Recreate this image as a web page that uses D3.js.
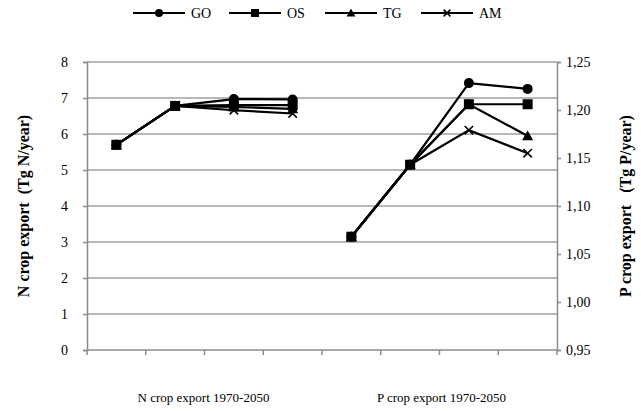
<!DOCTYPE html>
<html>
<head>
<meta charset="UTF-8">
<script src="https://d3js.org/d3.v7.min.js"></script>
<style>
  body { margin: 0; background: #fff; }
</style>
</head>
<body>
<svg id="chart" width="641" height="411"></svg>
<script>
// categories: 4 N points then 4 P points
const categories = ["N 1970", "N 2000", "N 2030", "N 2050", "P 1970", "P 2000", "P 2030", "P 2050"];
const seriesNames = ["GO", "OS", "TG", "AM"];

// N crop export (Tg N/year), left axis
const nGO = [5.70, 6.78, 6.97, 6.96];
const nOS = [5.70, 6.78, 6.80, 6.80];
const nTG = [5.70, 6.78, 6.75, 6.70];
const nAM = [5.70, 6.78, 6.66, 6.57];

// P crop export (Tg P/year), right axis
const pGO = [1.068, 1.143, 1.228, 1.222];
const pOS = [1.068, 1.143, 1.206, 1.206];
const pTG = [1.068, 1.143, 1.206, 1.173];
const pAM = [1.068, 1.143, 1.179, 1.155];

const leftTicks = [0, 1, 2, 3, 4, 5, 6, 7, 8];
const rightTicks = [0.95, 1.00, 1.05, 1.10, 1.15, 1.20, 1.25];
const groupLabels = ["N crop export 1970-2050", "P crop export 1970-2050"];

const nData = [nGO, nOS, nTG, nAM];
const pData = [pGO, pOS, pTG, pAM];

const FONT = "'Liberation Serif', 'Times New Roman', serif";
const plot = { left: 87, right: 557, top: 62, bottom: 350 };
const svg = d3.select("#chart");

const x = d3.scaleBand().domain(categories).range([plot.left, plot.right]).padding(0);
const yL = d3.scaleLinear().domain([0, 8]).range([plot.bottom, plot.top]);
const yR = d3.scaleLinear().domain([0.95, 1.25]).range([plot.bottom, plot.top]);
const cx = c => x(c) + x.bandwidth() / 2;

// gridlines
svg.append("g").selectAll("line").data(leftTicks.slice(1)).join("line")
  .attr("x1", plot.left).attr("x2", plot.right)
  .attr("y1", d => yL(d)).attr("y2", d => yL(d))
  .attr("stroke", "#a0a0a0").attr("stroke-width", 1.5);

function styleAxis(g) {
  g.attr("font-family", FONT).attr("font-size", 14);
  g.select(".domain").attr("stroke", "#8c8c8c").attr("stroke-width", 1.5);
  g.selectAll(".tick line").attr("stroke", "#8c8c8c").attr("stroke-width", 1.5);
  g.selectAll(".tick text").style("font-family", FONT).style("font-size", "14px").attr("fill", "#000");
}

// left axis
const gl = svg.append("g").attr("transform", `translate(${plot.left},0)`)
  .call(d3.axisLeft(yL).tickValues(leftTicks).tickSize(4).tickPadding(15).tickFormat(d3.format("d")));
styleAxis(gl);

// right axis
const gr = svg.append("g").attr("transform", `translate(${plot.right},0)`)
  .call(d3.axisRight(yR).tickValues(rightTicks).tickSize(4).tickPadding(5)
    .tickFormat(d => d3.format(".2f")(d).replace(".", ",")));
styleAxis(gr);

// bottom axis with ticks at category boundaries
const gb = svg.append("g").attr("transform", `translate(0,${plot.bottom})`);
gb.append("line").attr("x1", plot.left).attr("x2", plot.right)
  .attr("stroke", "#8c8c8c").attr("stroke-width", 1.5);
const bounds = categories.map(c => x(c)).concat([plot.right]);
gb.selectAll(".bt").data(bounds).join("line").attr("class", "bt")
  .attr("x1", d => d).attr("x2", d => d).attr("y1", 0).attr("y2", 5)
  .attr("stroke", "#8c8c8c").attr("stroke-width", 1.5);

// group labels under each half
const halves = [categories.slice(0, 4), categories.slice(4)];
svg.selectAll(".cat-label").data(groupLabels).join("text").attr("class", "cat-label")
  .attr("x", (d, i) => (x(halves[i][0]) + x(halves[i][3]) + x.bandwidth()) / 2 + (i === 0 ? -1 : 2))
  .attr("y", 402).attr("text-anchor", "middle")
  .style("font-family", FONT).style("font-size", "13px")
  .text(d => d);

// axis titles
svg.append("text")
  .attr("transform", `translate(29,${(plot.top + plot.bottom) / 2}) rotate(-90)`)
  .attr("text-anchor", "middle").attr("xml:space", "preserve")
  .style("font-family", FONT).style("font-size", "16px").style("font-weight", "bold")
  .text("N crop export  (Tg N/year)");
svg.append("text")
  .attr("transform", `translate(631,${(plot.top + plot.bottom) / 2}) rotate(-90)`)
  .attr("text-anchor", "middle").attr("xml:space", "preserve")
  .style("font-family", FONT).style("font-size", "16px").style("font-weight", "bold")
  .text("P crop export   (Tg P/year)");

// markers
function marker(g, type, px, py, s) {
  if (type === "GO") {
    g.append("circle").attr("cx", px).attr("cy", py).attr("r", 5 * s).attr("fill", "#000");
  } else if (type === "OS") {
    g.append("rect").attr("x", px - 5 * s).attr("y", py - 5 * s)
      .attr("width", 10 * s).attr("height", 10 * s).attr("fill", "#000");
  } else if (type === "TG") {
    const h = 5.5 * s;
    g.append("path").attr("d", `M${px},${py - h}L${px + h},${py + h * 0.8}L${px - h},${py + h * 0.8}Z`).attr("fill", "#000");
  } else {
    const h = 4.2 * s;
    g.append("path").attr("d", `M${px - h},${py - h}L${px + h},${py + h}M${px - h},${py + h}L${px + h},${py - h}`)
      .attr("stroke", "#000").attr("stroke-width", 1.6);
  }
}

const line = d3.line();
const gs = svg.append("g");
seriesNames.forEach((name, si) => {
  const nPts = nData[si].map((v, i) => [cx(categories[i]), yL(v)]);
  const pPts = pData[si].map((v, i) => [cx(categories[i + 4]), yR(v)]);
  [nPts, pPts].forEach(pts => {
    gs.append("path").attr("d", line(pts)).attr("fill", "none")
      .attr("stroke", "#000").attr("stroke-width", 2.2);
    pts.forEach(p => marker(gs, name, p[0], p[1], 1));
  });
});

// legend
const legend = svg.append("g");
seriesNames.forEach((name, i) => {
  const x0 = 133 + i * 96;
  legend.append("line").attr("x1", x0).attr("x2", x0 + 52).attr("y1", 13).attr("y2", 13)
    .attr("stroke", "#000").attr("stroke-width", 2.2);
  marker(legend, name, x0 + 26, 13, 0.8);
  legend.append("text").attr("x", x0 + 58).attr("y", 18)
    .style("font-family", FONT).style("font-size", "14px")
    .text(name);
});
</script>
</body>
</html>
